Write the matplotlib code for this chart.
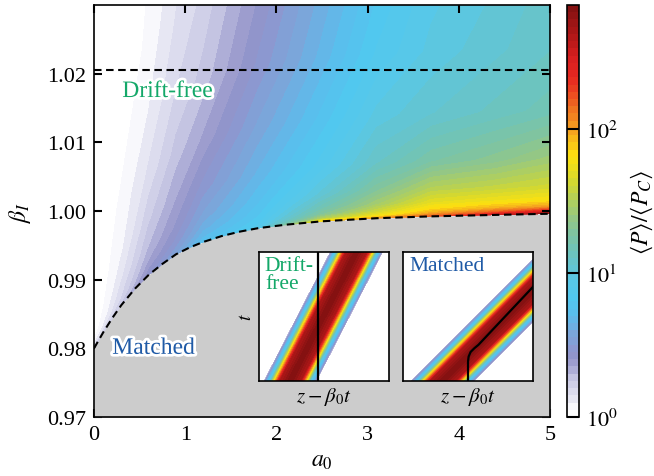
import numpy as np
import matplotlib
matplotlib.use('Agg')
import matplotlib.pyplot as plt
import matplotlib.patheffects as pe
from matplotlib.colors import LinearSegmentedColormap

plt.rcParams['font.family'] = ['Liberation Serif', 'DejaVu Serif']
plt.rcParams['mathtext.fontset'] = 'stix'

# matched-front curve (lower edge of the coloured region)
a0_curve = [0, 0.1, 0.2, 0.3, 0.45, 0.6, 0.75, 0.9, 1.05, 1.2, 1.4, 1.6, 1.8,
            2.1, 2.5, 3.1, 3.7, 4.4, 5.0]
beta_curve = [0.9800, 0.9823, 0.9844, 0.9863, 0.9887, 0.9907, 0.9923, 0.9937,
              0.9947, 0.9955, 0.99635, 0.99700, 0.99750, 0.9980, 0.9985,
              0.99895, 0.99922, 0.99943, 0.9996]
beta_driftfree = 1.0206

# log10 <P>/<P_C>, columns at a0_field, rows at a height above the curve
a0_field = [0, 0.3, 0.6, 0.9, 1.2, 1.8, 2.5, 3.1, 3.7, 4.4, 5.0]
height_above = [0, 0.0004, 0.001, 0.002, 0.004, 0.008, 0.015, 0.024, 0.034, 0.052]
log_power = np.array([
    # a0: 0    0.3   0.6   0.9   1.2   1.8   2.5   3.1   3.7   4.4   5.0
    [0.20, 0.25, 0.44, 0.55, 0.75, 0.88, 1.85, 2.00, 2.20, 2.50, 2.75],
    [0.12, 0.23, 0.42, 0.53, 0.72, 0.86, 1.50, 1.75, 2.00, 2.20, 2.40],
    [0.06, 0.20, 0.39, 0.50, 0.68, 0.83, 1.30, 1.60, 1.85, 1.95, 2.02],
    [0.02, 0.18, 0.35, 0.46, 0.63, 0.79, 1.18, 1.45, 1.70, 1.76, 1.80],
    [0.00, 0.14, 0.30, 0.41, 0.56, 0.74, 1.02, 1.30, 1.52, 1.57, 1.62],
    [0.00, 0.09, 0.24, 0.35, 0.47, 0.66, 0.88, 1.10, 1.25, 1.33, 1.42],
    [0.00, 0.06, 0.16, 0.27, 0.36, 0.56, 0.77, 0.97, 1.05, 1.12, 1.18],
    [0.00, 0.03, 0.10, 0.20, 0.27, 0.46, 0.67, 0.86, 0.97, 1.04, 1.10],
    [0.00, 0.00, 0.065, 0.155, 0.22, 0.40, 0.61, 0.79, 0.93, 1.00, 1.07],
    [0.00, 0.00, 0.04, 0.10, 0.15, 0.33, 0.55, 0.72, 0.88, 0.96, 1.04],
])

# pulse profile across the band in the insets (log10 scale, edge -> centre -> edge)
band_offset = [-1.0, -0.9, -0.8, -0.7, -0.6, -0.5, -0.4, 0.0,
               0.4, 0.5, 0.6, 0.7, 0.8, 0.9, 1.0]
band_level = [0.25, 0.6, 0.85, 1.35, 1.85, 2.25, 2.65, 2.86,
              2.65, 2.25, 1.85, 1.35, 0.85, 0.6, 0.25]
# ionisation front in the matched inset
front_z = [0.5, 0.5, 0.505, 0.52, 0.55, 0.58, 1.0]
front_t = [0.0, 0.15, 0.19, 0.225, 0.255, 0.28, 0.73]

cb_pos = [0, 0.05, 0.09, 0.15, 0.21, 0.27, 0.31, 0.36, 0.40, 0.47, 0.59, 0.70,
          0.82, 0.94, 1.05, 1.17, 1.28, 1.40, 1.51, 1.63, 1.75, 1.82, 1.91, 2.0,
          2.12, 2.23, 2.35, 2.49, 2.62, 2.76, 2.86]
cb_col = ['#ffffff', '#ffffff', '#efeff7', '#e0e0f0', '#d4d4ea', '#c4c4e2',
          '#b4b4da', '#a0a0d0', '#9494c8', '#8c98d0', '#78a8dc', '#5cbcec',
          '#50c8f0', '#58c8e8', '#64c4d0', '#70c4b8', '#80c4a0', '#98c880',
          '#b4d058', '#d4d830', '#f0e018', '#fce010', '#f8c018', '#f4a020',
          '#f07820', '#ec5020', '#e82820', '#d82020', '#b81818', '#981414',
          '#801010']
vmax = 2.86
cmap = LinearSegmentedColormap.from_list('pc', [(p / vmax, c) for p, c in zip(cb_pos, cb_col)])
levels = np.linspace(0, vmax, 58)

fig = plt.figure(figsize=(6.54, 4.77), dpi=100)
ax = fig.add_axes([94 / 654, 59 / 477, 456 / 654, 412 / 477])

beta_base = np.interp(a0_field, a0_curve, beta_curve)
X = np.tile(a0_field, (len(height_above), 1))
Y = beta_base[None, :] + np.array(height_above)[:, None]
cf = ax.contourf(X, Y, log_power, levels=levels, cmap=cmap, vmin=0, vmax=vmax, zorder=1)

ax.fill_between(a0_curve, 0.97, beta_curve, color='#cccccc', lw=0, zorder=2)
ax.plot(a0_curve, beta_curve, color='k', lw=1.5, ls=(0, (3.6, 2.2)), zorder=3)
ax.axhline(beta_driftfree, color='k', lw=1.5, ls=(0, (3.6, 2.2)), zorder=3)

ax.set_xlim(0, 5)
ax.set_ylim(0.97, 1.03)
ax.set_xticks([0, 1, 2, 3, 4, 5])
ax.set_yticks([0.97, 0.98, 0.99, 1.00, 1.01, 1.02])
ax.set_yticklabels(['0.97', '0.98', '0.99', '1.00', '1.01', '1.02'])
ax.tick_params(direction='in', top=True, right=True, length=5.8, width=1.5,
               labelsize=16, pad=6)
for s in ax.spines.values():
    s.set_linewidth(1.2)
ax.set_xlabel('$a_0$', fontsize=17, labelpad=4)
ax.set_ylabel(r'$\beta_I$', fontsize=17, labelpad=10)

halo = [pe.withStroke(linewidth=4, foreground='white')]
ax.text(0.31, 1.0174, 'Drift-free', color='#14a869', fontsize=17, va='center',
        ha='left', path_effects=halo, zorder=4)
ax.text(0.2, 0.9800, 'Matched', color='#1f5aa6', fontsize=17, va='center',
        ha='left', path_effects=halo, zorder=4)

cax = fig.add_axes([567 / 654, 59 / 477, 12 / 654, 412 / 477])
cb = fig.colorbar(cf, cax=cax, ticks=[0, 1, 2])
cb.ax.set_yticklabels(['$10^0$', '$10^1$', '$10^2$'])
cb.ax.minorticks_off()
cb.ax.tick_params(direction='in', length=8.6, width=1.5, labelsize=16, pad=5)
cb.outline.set_linewidth(1.2)
cb.set_label(r'$\langle P\rangle/\langle P_C\rangle$', fontsize=17, labelpad=8)


def inset(left, c0, slope, width):
    ia = fig.add_axes([left / 654, 95 / 477, 130 / 654, 129 / 477])
    T = np.array([[-0.1] * len(band_offset), [1.1] * len(band_offset)])
    Xb = c0 + slope * T + width * np.array(band_offset)[None, :]
    Zb = np.tile(band_level, (2, 1))
    ia.contourf(Xb, T, Zb, levels=levels, cmap=cmap, vmin=0, vmax=vmax)
    ia.set_xlim(0, 1)
    ia.set_ylim(0, 1)
    ia.set_xticks([])
    ia.set_yticks([])
    ia.set_facecolor('white')
    for s in ia.spines.values():
        s.set_linewidth(1.2)
    ia.set_xlabel(r'$z-\beta_0 t$', fontsize=15, labelpad=3)
    return ia


ins1 = inset(259, 0.24, 0.51, 0.2)
ins1.axvline(0.454, color='k', lw=1.6)
ins1.set_ylabel('$t$', fontsize=14, labelpad=3)
ins1.text(0.045, 0.97, 'Drift-\nfree', color='#14a869', fontsize=15.5,
          va='top', ha='left', linespacing=0.95, transform=ins1.transAxes)

ins2 = inset(403, 0.304, 0.99, 0.24)
ins2.plot(front_z, front_t, color='k', lw=1.6)
ins2.text(0.05, 0.97, 'Matched', color='#1f5aa6', fontsize=15.5,
          va='top', ha='left', transform=ins2.transAxes)

fig.savefig('out.png', dpi=100)
